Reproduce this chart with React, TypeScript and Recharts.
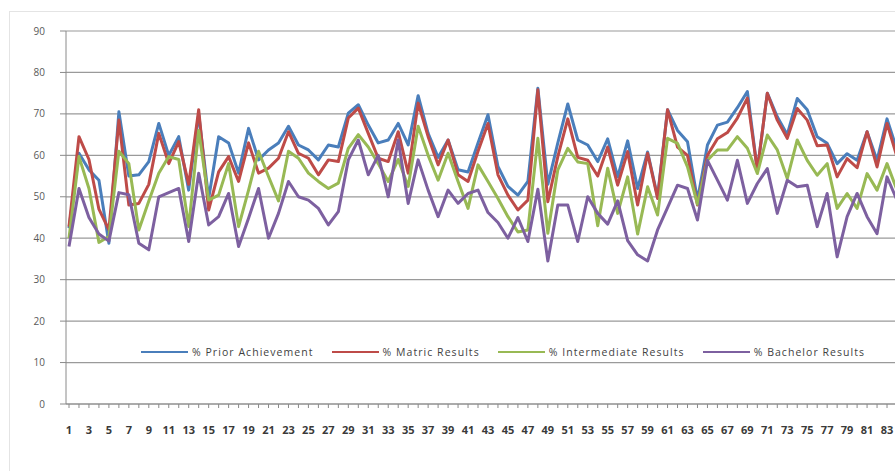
import { LineChart, Line, XAxis, YAxis, CartesianGrid } from 'recharts';

const CATEGORIES = Array.from({ length: 84 }, (_, i) => String(i + 1));

const PRIOR = [
  42.4, 60.5, 56.5, 54, 38.8, 70.5, 55, 55.3, 58.5, 67.7,
  60, 64.5, 51.6, 70, 49.6, 64.5, 63, 55.7, 66.5, 58.9,
  61.3, 63, 67, 62.5, 61.3, 58.9, 62.5, 62, 70.2, 72.2,
  67.3, 63, 63.7, 67.7, 62.5, 74.4, 65.3, 59.5, 63.7, 56.5,
  56, 63, 69.8, 57.3, 52.5, 50.4, 53.7, 76.2, 53, 63,
  72.4, 63.7, 62.5, 58.5, 64, 54.8, 63.5, 52, 60.8, 50,
  71, 66, 63.3, 49.2, 62.5, 67.3, 68, 71.5, 75.4, 56.4,
  75, 69.3, 65, 73.7, 71, 64.5, 62.9, 58, 60.4, 58.8,
  65.7, 58.8, 68.8, 61.3,
];

const MATRIC = [
  42.8, 64.5, 59, 47, 42, 68.5, 48, 48.4, 53, 65.3,
  58, 63.3, 53, 71, 46.8, 56, 59.7, 53.7, 63, 55.7,
  56.9, 59.3, 65.7, 60.5, 59.3, 55.3, 58.9, 58.5, 69, 71.4,
  65.3, 59.3, 58.5, 65.7, 55.7, 72.6, 64.5, 57.7, 63.7, 55.3,
  53.7, 61, 67.7, 55.3, 50.4, 46.8, 49.2, 75.8, 48.8, 59.7,
  68.8, 59.5, 58.8, 55, 62, 52.8, 60.9, 48, 60.5, 49.6,
  71, 62, 60, 48, 60, 64, 65.5, 69, 73.8, 56.4,
  75, 68.5, 64.1, 71.3, 68.5, 62.3, 62.5, 54.8, 59.2, 57,
  65.7, 57.2, 67.7, 59.6,
];

const INTERMEDIATE = [
  40, 59.7, 52, 39, 40.4, 61, 58, 42, 49, 55.7,
  59.7, 59, 42.8, 66, 49.2, 50.4, 58, 42.8, 51.6, 61,
  54.9, 49, 61, 59.3, 55.7, 53.7, 52, 53.3, 61.7, 65,
  62, 58, 53.7, 59, 52.5, 67, 60, 54, 60.5, 53.7,
  47.2, 57.7, 53.7, 49.6, 45.2, 41.5, 42, 64.1, 41.2, 56.5,
  61.7, 58.4, 58, 43, 56.9, 46, 54.8, 41, 52.4, 45.6,
  64.1, 62.9, 57.2, 48.2, 58.8, 61.3, 61.3, 64.5, 61.7, 55.6,
  64.9, 61.3, 54.4, 63.7, 58.8, 55.2, 58, 47.2, 50.8, 47.2,
  55.6, 51.6, 58, 51.6,
];

const BACHELOR = [
  38, 52, 45, 41, 39.3, 51, 50.5, 38.8, 37.2, 50,
  51, 52, 39.2, 55.7, 43.2, 45.2, 50.8, 38, 44.8, 52,
  40, 46, 53.7, 50, 49.2, 47.2, 43.2, 46.4, 58.9, 63.7,
  55.3, 60, 50, 63.7, 48.4, 58.9, 51.6, 45.2, 51.6, 48.4,
  50.8, 51.6, 46.2, 43.8, 40, 45, 39.2, 51.8, 34.5, 48,
  48, 39.2, 50, 46, 43.4, 49, 39.4, 36, 34.5, 42,
  47.4, 52.8, 52, 44.4, 58.8, 54, 49.2, 58.8, 48.4, 53.2,
  56.8, 46, 54, 52.4, 52.8, 42.8, 50.8, 35.5, 45.2, 50.8,
  45.2, 41.1, 54.8, 49.2,
];

const Y_TICKS = [0, 10, 20, 30, 40, 50, 60, 70, 80, 90];

const SERIES = [
  { key: 'prior', name: '% Prior Achievement', color: '#4A7EBB', values: PRIOR },
  { key: 'matric', name: '% Matric Results', color: '#BE4B48', values: MATRIC },
  { key: 'inter', name: '% Intermediate Results', color: '#98B954', values: INTERMEDIATE },
  { key: 'bachelor', name: '% Bachelor Results', color: '#7D60A0', values: BACHELOR },
];

const data = CATEGORIES.map((cat, i) => {
  const row: Record<string, string | number> = { cat };
  SERIES.forEach((s) => { row[s.key] = s.values[i]; });
  return row;
});

const FONT = '"Open Sans", "Liberation Sans", sans-serif';

// label only every other category, tick marks on all
const XTick = (props: any) => {
  const { x, y, payload, index } = props;
  if (index % 2 !== 0) return null;
  return (
    <text x={x} y={y} dy="0.71em" textAnchor="middle" fontSize={11} fontWeight={700}
      fill="#3a3a3a" fontFamily={FONT}>
      {payload.value}
    </text>
  );
};

// legend sits inside the plot, so it is drawn over the chart rather than taking space from it
const LegendBox = () => (
  <div style={{ position: 'absolute', left: 141, top: 345, display: 'flex', alignItems: 'center', fontFamily: FONT }}>
    {SERIES.map((s) => (
      <div key={s.key} style={{ display: 'flex', alignItems: 'center', marginRight: 18 }}>
        <span style={{ display: 'inline-block', width: 47, height: 2.5, background: s.color, marginRight: 4 }} />
        <span style={{ fontSize: 10.5, letterSpacing: 1.05, color: '#3f3f3f', lineHeight: '14px' }}>{s.name}</span>
      </div>
    ))}
  </div>
);

export default function App() {
  return (
    <div style={{ position: 'fixed', left: 0, top: 0, width: 895, height: 471, overflow: 'hidden', background: '#fff' }}>
      <div style={{ position: 'absolute', left: 9, top: 11, width: 900, height: 480, border: '1px solid #e4e4e4' }} />
      <div style={{ position: 'absolute', left: 0, top: 0 }}>
        <LineChart width={897} height={471} data={data} margin={{ top: 31, right: 0, bottom: 27, left: 0 }}>
          <CartesianGrid horizontal vertical={false} stroke="#9a9a9a" strokeWidth={1.2} />
          <XAxis
            dataKey="cat"
            interval={0}
            padding={{ left: 3, right: 0 }}
            height={40}
            tickSize={4}
            tickMargin={18}
            stroke="#8a8a8a"
            tick={<XTick />}
          />
          <YAxis
            domain={[0, 90]}
            ticks={Y_TICKS}
            width={66}
            tickSize={6}
            tickMargin={15}
            stroke="#8a8a8a"
            tick={{ fontSize: 10, fill: '#595959', fontFamily: FONT }}
          />
          {SERIES.map((s) => (
            <Line
              key={s.key}
              type="linear"
              dataKey={s.key}
              name={s.name}
              stroke={s.color}
              strokeWidth={3}
              strokeLinejoin="round"
              dot={false}
              activeDot={false}
              isAnimationActive={false}
            />
          ))}
        </LineChart>
      </div>
      <LegendBox />
    </div>
  );
}
